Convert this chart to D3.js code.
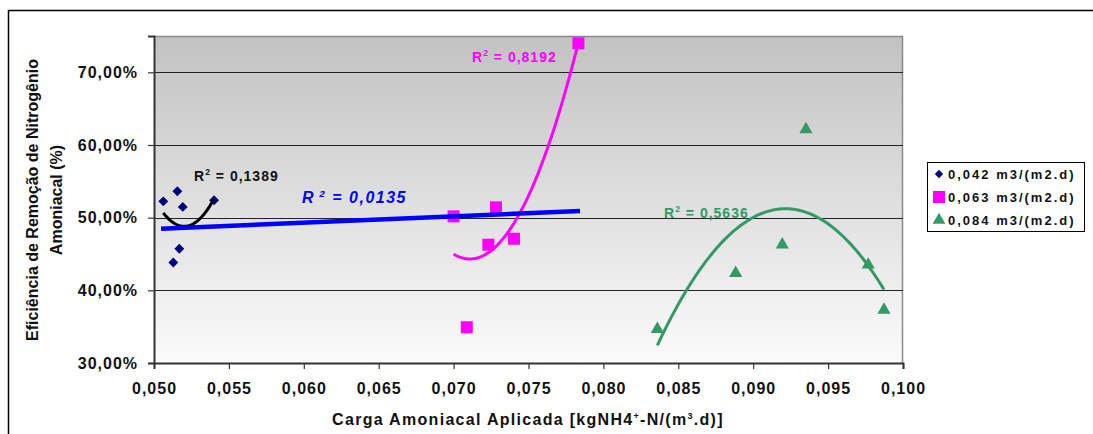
<!DOCTYPE html>
<html>
<head>
<meta charset="utf-8">
<script src="https://cdn.jsdelivr.net/npm/d3@7"></script>
<style>
  html, body { margin: 0; padding: 0; background: #fff; }
  svg { display: block; font-family: "Liberation Sans", Arial, sans-serif; }
</style>
</head>
<body>
<svg id="chart" width="1093" height="434"></svg>
<script>
// ---------------- data ----------------
const seriesNames = ["0,042 m3/(m2.d)", "0,063 m3/(m2.d)", "0,084 m3/(m2.d)"];
const s1x = [0.05062, 0.05156, 0.05192, 0.05401, 0.05169, 0.05129];
const s1y = [0.5225, 0.5363, 0.5148, 0.5239, 0.4572, 0.4383];
const s2x = [0.07833, 0.07000, 0.07283, 0.07232, 0.07403, 0.07088];
const s2y = [0.7400, 0.5018, 0.5142, 0.4628, 0.4710, 0.3492];
const s3x = [0.09352, 0.09194, 0.08883, 0.08360, 0.09768, 0.09873];
const s3y = [0.6214, 0.4628, 0.4237, 0.3465, 0.4352, 0.3731];
// linear trend (R² = 0,0135): start and end
const linTrendX = [0.05047, 0.07844];
const linTrendY = [0.4848, 0.5092];
const xTicks = [0.050, 0.055, 0.060, 0.065, 0.070, 0.075, 0.080, 0.085, 0.090, 0.095, 0.100];
const yTicks = [0.30, 0.40, 0.50, 0.60, 0.70];
const r2Labels = ["0,1389", "0,8192", "0,5636", "0,0135"];

// ---------------- setup ----------------
const svg = d3.select("#chart");
const L = 154, R = 903, T = 36, B = 363;
const x = d3.scaleLinear().domain([0.050, 0.100]).range([L, R]);
const y = d3.scaleLinear().domain([0.30, 0.75]).range([B, T]);
const loc = d3.formatLocale({decimal: ",", thousands: ".", grouping: [3], currency: ["", ""]});
const fx = loc.format(".3f");
const fy = loc.format(".2%");

// outer frame
svg.append("path").attr("d", "M8.5,434 V10.5 H1093").attr("fill", "none").attr("stroke", "#000").attr("stroke-width", 1.5);

// plot background gradient
const defs = svg.append("defs");
const grad = defs.append("linearGradient").attr("id", "bg").attr("x1", 0).attr("y1", 0).attr("x2", 0).attr("y2", 1);
grad.append("stop").attr("offset", "0%").attr("stop-color", "#c2c2c2");
grad.append("stop").attr("offset", "100%").attr("stop-color", "#fbfbfb");
svg.append("rect").attr("x", L).attr("y", T).attr("width", R - L).attr("height", B - T).attr("fill", "url(#bg)");
svg.append("path").attr("d", `M${L},${T + 0.5} H${R - 0.5} V${B}`).attr("fill", "none").attr("stroke", "#8a8a8a").attr("stroke-width", 1.5);

// gridlines
svg.append("g").selectAll("line").data(yTicks.filter(d => d > 0.30)).join("line")
  .attr("x1", L).attr("x2", R).attr("y1", d => Math.round(y(d)) + 0.5).attr("y2", d => Math.round(y(d)) + 0.5)
  .attr("stroke", "#222").attr("stroke-width", 1.2);

// axes
const yAxis = d3.axisLeft(y).tickValues(yTicks).tickSize(6).tickFormat(fy);
const gy = svg.append("g").attr("transform", `translate(${L},0)`).call(yAxis);
gy.select(".domain").attr("stroke", "#333").attr("stroke-width", 2);
gy.selectAll(".tick line").attr("stroke", "#333").attr("stroke-width", 1.2);
gy.selectAll(".tick text").attr("x", -16).attr("font-size", 16).attr("font-weight", "bold")
  .attr("letter-spacing", "1px").attr("fill", "#111").attr("font-family", "Liberation Sans, Arial, sans-serif");

const xAxis = d3.axisBottom(x).tickValues(xTicks).tickSize(6).tickFormat(fx);
const gx = svg.append("g").attr("transform", `translate(0,${B})`).call(xAxis);
gx.select(".domain").attr("stroke", "#333").attr("stroke-width", 2);
gx.selectAll(".tick line").attr("stroke", "#333").attr("stroke-width", 1.2);
gx.selectAll(".tick text").attr("y", 20).attr("font-size", 16).attr("font-weight", "bold")
  .attr("letter-spacing", "1px").attr("fill", "#111").attr("font-family", "Liberation Sans, Arial, sans-serif");

// ---------------- regression ----------------
function polyfit(xs, ys, order) {
  const mx = d3.mean(xs);
  const n = order + 1;
  const A = Array.from({length: n}, () => new Array(n + 1).fill(0));
  xs.forEach((xv, i) => {
    const u = (xv - mx) * 1000;
    for (let r = 0; r < n; r++) {
      for (let c = 0; c < n; c++) A[r][c] += Math.pow(u, r + c);
      A[r][n] += ys[i] * Math.pow(u, r);
    }
  });
  for (let i = 0; i < n; i++) {
    let p = i;
    for (let k = i + 1; k < n; k++) if (Math.abs(A[k][i]) > Math.abs(A[p][i])) p = k;
    [A[i], A[p]] = [A[p], A[i]];
    for (let k = i + 1; k < n; k++) {
      const f = A[k][i] / A[i][i];
      for (let j = i; j <= n; j++) A[k][j] -= f * A[i][j];
    }
  }
  const c = new Array(n).fill(0);
  for (let i = n - 1; i >= 0; i--) {
    let s = A[i][n];
    for (let j = i + 1; j < n; j++) s -= A[i][j] * c[j];
    c[i] = s / A[i][i];
  }
  return xv => { const u = (xv - mx) * 1000; return c.reduce((s, ci, k) => s + ci * Math.pow(u, k), 0); };
}

function trend(xs, ys, order, color, width) {
  const f = polyfit(xs, ys, order);
  const [a, b] = d3.extent(xs);
  const pts = d3.range(0, 101).map(i => a + (b - a) * i / 100);
  svg.append("path").datum(pts)
    .attr("d", d3.line().x(d => x(d)).y(d => y(f(d))))
    .attr("fill", "none").attr("stroke", color).attr("stroke-width", width);
}

// ---------------- markers ----------------
const s1 = s1x.map((v, i) => [v, s1y[i]]);
const s2 = s2x.map((v, i) => [v, s2y[i]]);
const s3 = s3x.map((v, i) => [v, s3y[i]]);

svg.append("g").selectAll("path").data(s1).join("path")
  .attr("d", d3.symbol(d3.symbolDiamond2, 62))
  .attr("transform", d => `translate(${x(d[0])},${y(d[1])})`)
  .attr("fill", "#000080");
svg.append("g").selectAll("rect").data(s2).join("rect")
  .attr("x", d => x(d[0]) - 6).attr("y", d => y(d[1]) - 6).attr("width", 12).attr("height", 12)
  .attr("fill", "#ff00ff");
svg.append("g").selectAll("path").data(s3).join("path")
  .attr("d", d3.symbol(d3.symbolTriangle, 75))
  .attr("transform", d => `translate(${x(d[0])},${y(d[1])})`)
  .attr("fill", "#339966");

// trend lines
trend(s1x, s1y, 2, "#000", 3);
trend(s2x, s2y, 2, "#ff00ff", 3);
trend(s3x, s3y, 2, "#339966", 3);
svg.append("path").datum(linTrendX.map((v, i) => [v, linTrendY[i]]))
  .attr("d", d3.line().x(d => x(d[0])).y(d => y(d[1])))
  .attr("fill", "none").attr("stroke", "#0000ff").attr("stroke-width", 4.5);

// ---------------- R² labels ----------------
function r2(xp, yp, val, color, size, italic, sp) {
  const t = svg.append("text").attr("x", xp).attr("y", yp).attr("fill", color)
    .attr("font-size", size).attr("font-weight", "bold").attr("letter-spacing", sp)
    .attr("font-style", italic ? "italic" : "normal");
  t.append("tspan").text("R");
  t.append("tspan").attr("dy", -6).attr("font-size", size * 0.62).text(italic ? " 2" : "2");
  t.append("tspan").attr("dy", 6).text(` = ${val}`);
}
r2(194, 181, r2Labels[0], "#111", 14, false, "1px");
r2(472, 62, r2Labels[1], "#ff00ff", 14, false, "1px");
r2(664, 218, r2Labels[2], "#339966", 14, false, "1px");
r2(302, 203, r2Labels[3], "#0000ff", 16, true, "1.5px");

// ---------------- axis titles ----------------
const yt = svg.append("text").attr("transform", "translate(0,200) rotate(-90)")
  .attr("text-anchor", "middle").attr("font-size", 16).attr("font-weight", "bold").attr("fill", "#111");
yt.append("tspan").attr("x", 0).attr("y", 38).text("Eficiência de Remoção de Nitrogênio");
yt.append("tspan").attr("x", 0).attr("y", 62).text("Amoniacal (%)");

const xt = svg.append("text").attr("x", 528).attr("y", 425).attr("text-anchor", "middle")
  .attr("font-size", 16).attr("font-weight", "bold").attr("fill", "#111").attr("letter-spacing", "1.3px");
xt.append("tspan").text("Carga Amoniacal Aplicada [kgNH4");
xt.append("tspan").attr("dy", -6).attr("font-size", 9).text("+");
xt.append("tspan").attr("dy", 6).text("-N/(m");
xt.append("tspan").attr("dy", -6).attr("font-size", 9).text("3");
xt.append("tspan").attr("dy", 6).text(".d)]");

// ---------------- legend ----------------
const lg = svg.append("g");
lg.append("rect").attr("x", 927.5).attr("y", 162.5).attr("width", 157).attr("height", 69)
  .attr("fill", "#fff").attr("stroke", "#000").attr("stroke-width", 1);
const ly = [174, 197, 220];
seriesNames.forEach((name, i) => {
  const cy = ly[i];
  if (i === 0) lg.append("path").attr("d", d3.symbol(d3.symbolDiamond2, 45)).attr("transform", `translate(939,${cy})`).attr("fill", "#000080");
  if (i === 1) lg.append("rect").attr("x", 933).attr("y", cy - 6).attr("width", 12).attr("height", 12).attr("fill", "#ff00ff");
  if (i === 2) lg.append("path").attr("d", d3.symbol(d3.symbolTriangle, 70)).attr("transform", `translate(939,${cy})`).attr("fill", "#339966");
  lg.append("text").attr("x", 948).attr("y", cy + 5).attr("font-size", 13).attr("font-weight", "bold")
    .attr("letter-spacing", "2px").attr("fill", "#111").text(name);
});
</script>
</body>
</html>
